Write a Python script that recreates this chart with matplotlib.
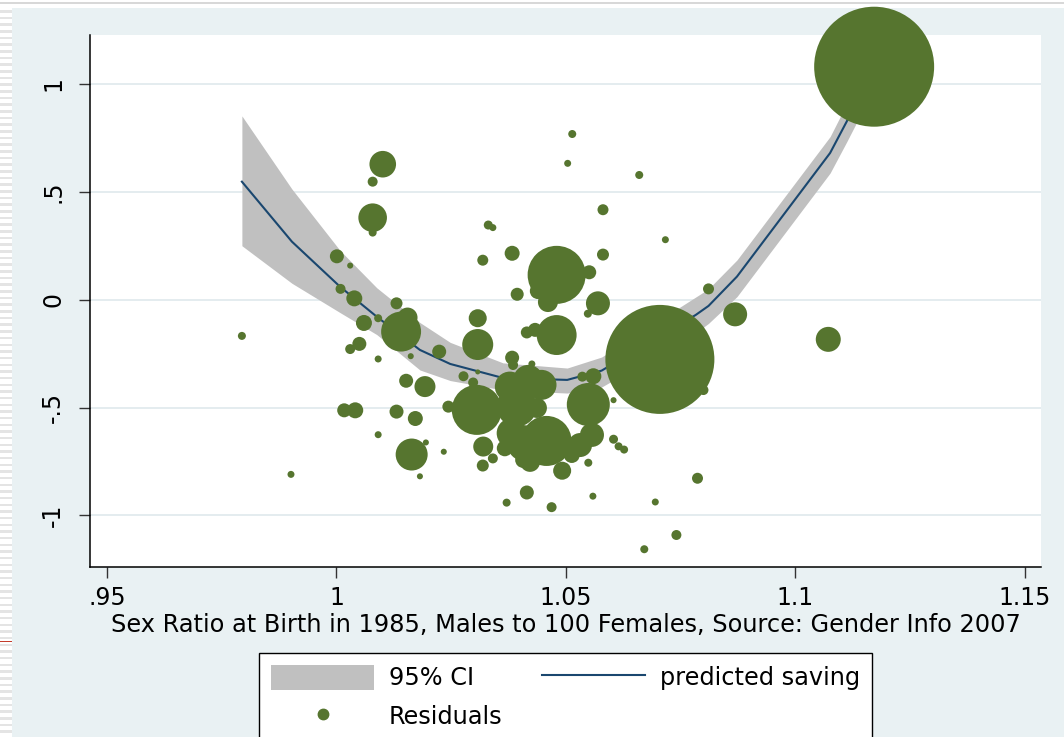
import numpy as np
import matplotlib
matplotlib.use("Agg")
import matplotlib.pyplot as plt
from matplotlib.patches import Rectangle, Patch
from matplotlib.lines import Line2D

plt.rcParams['font.family'] = ['DejaVu Sans']

# predicted saving from the sex-ratio fit, with its 95% confidence band
fit_x = [0.9794, 0.9903, 1.0008, 1.0088, 1.0182, 1.0248, 1.0363, 1.0503,
         1.0578, 1.0783, 1.0811, 1.0873, 1.1076, 1.1112, 1.1172]
fit_y = [0.547, 0.269, 0.060, -0.079, -0.233, -0.298, -0.363, -0.372,
         -0.329, -0.071, -0.029, 0.107, 0.680, 0.825, 1.080]
ci_hi = [0.852, 0.513, 0.228, 0.055, -0.106, -0.198, -0.293, -0.317,
         -0.266, 0.012, 0.050, 0.184, 0.756, 0.907, 1.180]
ci_lo = [0.250, 0.076, -0.060, -0.162, -0.326, -0.375, -0.419, -0.433,
         -0.405, -0.154, -0.110, 0.014, 0.587, 0.731, 0.980]

# residuals by country: sex ratio at birth, residual, population (millions)
sex_ratio = [0.9794, 0.9901, 1.0101, 1.0079, 1.0079, 1.0079, 1.0001, 1.0030,
             1.0009, 1.0039, 1.0060, 1.0091, 1.0131, 1.0141, 1.0155, 1.0050,
             1.0030, 1.0091, 1.0162, 1.0224, 1.0152, 1.0193, 1.0244, 1.0017,
             1.0041, 1.0131, 1.0172, 1.0091, 1.0195, 1.0234, 1.0164, 1.0182,
             1.0514, 1.0504, 1.0660, 1.0581, 1.0331, 1.0341, 1.0319, 1.0383,
             1.0581, 1.0480, 1.0551, 1.0439, 1.0570, 1.0548, 1.0394, 1.0308,
             1.0308, 1.0480, 1.0415, 1.0433, 1.0383, 1.0385, 1.0426, 1.0277,
             1.0298, 1.0308, 1.0306, 1.0320, 1.0341, 1.0319, 1.0378, 1.0418,
             1.0447, 1.0393, 1.0437, 1.0382, 1.0458, 1.0411, 1.0407, 1.0367,
             1.0513, 1.0549, 1.0557, 1.0531, 1.0560, 1.0536, 1.0604, 1.0604,
             1.0615, 1.0627, 1.0549, 1.0492, 1.0415, 1.0371, 1.0469, 1.0559,
             1.0695, 1.0671, 1.0717, 1.0811, 1.0869, 1.1072, 1.0705, 1.0800,
             1.0787, 1.0741, 1.1172, 1.0422, 1.0461]
residual = [-0.168, -0.810, 0.628, 0.547, 0.380, 0.311, 0.201, 0.158,
            0.050, 0.006, -0.108, -0.086, -0.017, -0.148, -0.083, -0.205,
            -0.229, -0.275, -0.262, -0.241, -0.376, -0.403, -0.496, -0.513,
            -0.513, -0.519, -0.551, -0.626, -0.662, -0.705, -0.718, -0.819,
            0.768, 0.632, 0.578, 0.417, 0.346, 0.334, 0.183, 0.215,
            0.209, 0.115, 0.127, 0.040, -0.017, -0.065, 0.025, -0.086,
            -0.208, -0.164, -0.152, -0.140, -0.269, -0.303, -0.298, -0.355,
            -0.384, -0.335, -0.511, -0.681, -0.736, -0.769, -0.403, -0.372,
            -0.395, -0.496, -0.502, -0.619, -0.655, -0.666, -0.743, -0.689,
            -0.720, -0.486, -0.627, -0.674, -0.355, -0.357, -0.466, -0.647,
            -0.680, -0.695, -0.756, -0.793, -0.894, -0.941, -0.962, -0.911,
            -0.938, -1.157, 0.278, 0.050, -0.068, -0.184, -0.277, -0.419,
            -0.828, -1.091, 1.080, -0.752, -0.011]
population = [5.8, 4.4, 63.9, 9.0, 73.8, 5.8, 17.7, 3.3,
              9.0, 23.1, 23.1, 5.8, 13.0, 144, 36.1, 17.7,
              9.0, 4.4, 3.3, 17.7, 17.7, 39.8, 13.0, 17.7,
              23.1, 17.7, 20.3, 4.4, 3.3, 3.3, 92.5, 3.3,
              5.8, 4.4, 5.8, 10.9, 7.3, 4.4, 10.9, 20.3,
              13.0, 304, 17.7, 23.1, 52, 5.8, 15.3, 29.3,
              86.8, 144, 13.0, 17.7, 17.7, 9.0, 4.4, 9.0,
              9.0, 2.3, 226, 36.1, 9.0, 13.0, 81.3, 81.3,
              81.3, 144, 36.1, 81.3, 226, 117, 23.1, 23.1,
              23.1, 167, 52, 52, 23.1, 9.0, 3.3, 7.3,
              5.8, 5.8, 5.8, 29.3, 17.7, 5.8, 9.0, 4.4,
              4.4, 5.8, 4.4, 10.9, 52, 56.4, 1073, 9.0,
              10.9, 9.0, 1300, 36.1, 36.1]

xticks = [0.95, 1.0, 1.05, 1.1, 1.15]
xticklabels = ['.95', '1', '1.05', '1.1', '1.15']
yticks = [-1, -0.5, 0, 0.5, 1]
yticklabels = ['-1', '-.5', '0', '.5', '1']

green = '#56752f'
navy = '#1a476f'
band = '#c0c0c0'
region = '#e9f1f3'

W, H = 1064, 737
fig = plt.figure(figsize=(W / 100, H / 100), dpi=100, facecolor='white')


def frame_rect(x0, y0, w, h, **kw):
    # rectangle given in pixels from the top-left corner of the figure
    fig.add_artist(Rectangle((x0 / W, 1 - (y0 + h) / H), w / W, h / H,
                             transform=fig.transFigure, lw=0, zorder=-5, **kw))


# graph region, slide border stripes and top rule
frame_rect(12, 8, W - 12, H - 8, color=region)
for y in np.arange(10, H, 6.67):
    frame_rect(0, y, 12, 2.5, color='#e4e4e4')
frame_rect(0, 2, W, 2, color='#d8d8d8')
frame_rect(0, 640.5, 12, 1, color='#c43c2c')

ax = fig.add_axes([90.3 / W, 1 - 566.7 / H, (1040.7 - 90.3) / W, (566.7 - 35) / H])
ax.set_facecolor('white')
ax.set_xlim(0.94636, 1.1535)
ax.set_ylim(-1.238, 1.227)

ax.fill_between(fit_x, ci_lo, ci_hi, color=band, lw=0, zorder=1)
ax.plot(fit_x, fit_y, color=navy, lw=1.5, zorder=2)
ax.scatter(sex_ratio, residual, s=np.array(population) * 5.74, color=green,
           linewidths=0, zorder=3, clip_on=False)

ax.set_xticks(xticks)
ax.set_xticklabels(xticklabels)
ax.set_yticks(yticks)
ax.set_yticklabels(yticklabels, rotation=90, va='center')
ax.tick_params(axis='both', length=8, width=1, color='#333333', labelsize=17)
ax.tick_params(axis='x', pad=6)
ax.tick_params(axis='y', pad=10)
ax.yaxis.grid(True, color='#e4ecef', lw=1.4)
ax.set_axisbelow(True)
for side in ['top', 'right']:
    ax.spines[side].set_visible(False)
for side in ['left', 'bottom']:
    ax.spines[side].set_color('black')
    ax.spines[side].set_linewidth(1.1)

ax.set_xlabel('Sex Ratio at Birth in 1985, Males to 100 Females, Source: Gender Info 2007',
              fontsize=17.3, labelpad=2)

handles = [Patch(facecolor=band, edgecolor='none'),
           Line2D([], [], ls='none', marker='o', markersize=7.5, color=green),
           Line2D([], [], color=navy, lw=1.5)]
labels = ['95% CI', 'Residuals', 'predicted saving']
leg = fig.legend(handles, labels, loc='upper left', bbox_to_anchor=(259 / W, 1 - 653 / H),
                 bbox_transform=fig.transFigure, ncol=2, fontsize=17.3, frameon=True,
                 fancybox=False, framealpha=1, edgecolor='black', borderaxespad=0,
                 handlelength=4.3, handleheight=1.2, handletextpad=0.6,
                 columnspacing=1.65, labelspacing=0.55, borderpad=0.5)
leg.get_frame().set_linewidth(1.0)

fig.savefig('out.png', dpi=100, facecolor=fig.get_facecolor())
